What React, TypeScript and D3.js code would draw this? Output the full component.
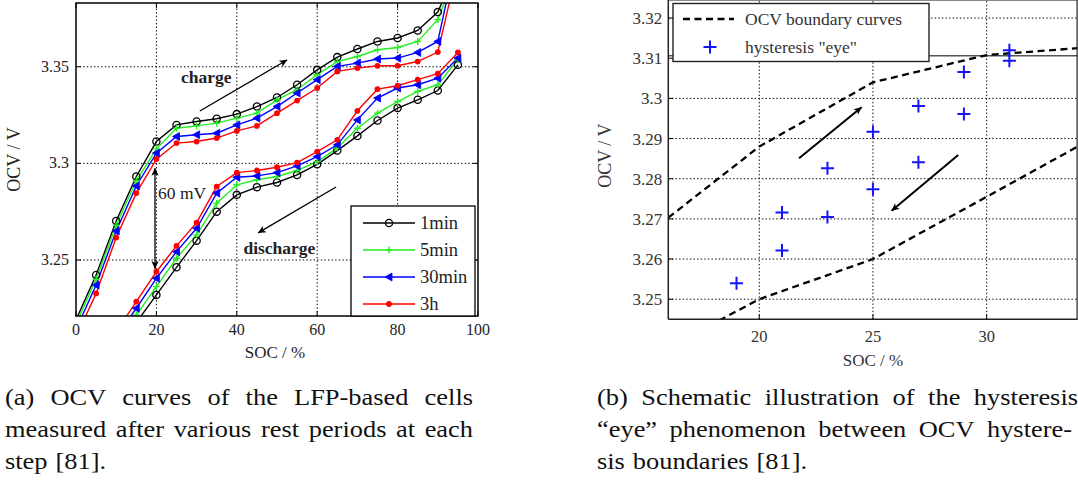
import React, { useMemo } from 'react';
import * as d3 from 'd3';

// ---------- Data: panel (a) ----------
const chargeSoc = [0, 5, 10, 15, 20, 25, 30, 35, 40, 45, 50, 55, 60, 65, 70, 75, 80, 85, 90, 95];
const charge1min = [3.219, 3.2422, 3.2702, 3.2932, 3.3113, 3.3199, 3.3217, 3.3231, 3.3255, 3.3294, 3.3341, 3.3407, 3.3484, 3.355, 3.3592, 3.3631, 3.3649, 3.3688, 3.3783, 3.402];
const charge5min = [3.217, 3.24, 3.268, 3.291, 3.3075, 3.3182, 3.3194, 3.3208, 3.3234, 3.326, 3.3329, 3.3381, 3.3459, 3.3527, 3.3553, 3.3588, 3.36, 3.3631, 3.3744, 3.401];
const charge30min = [3.214, 3.237, 3.265, 3.2883, 3.3053, 3.3139, 3.3148, 3.3156, 3.3199, 3.3234, 3.3294, 3.3364, 3.3433, 3.3502, 3.3519, 3.354, 3.3545, 3.3574, 3.3631, 3.411];
const charge3h = [3.21, 3.2327, 3.2616, 3.2846, 3.3022, 3.3105, 3.3113, 3.3131, 3.3168, 3.3194, 3.326, 3.3325, 3.339, 3.3476, 3.3493, 3.3505, 3.3505, 3.3527, 3.3576, 3.402];

const dischargeSoc = [10, 15, 20, 25, 30, 35, 40, 45, 50, 55, 60, 65, 70, 75, 80, 85, 90, 95];
const discharge1min = [3.203, 3.2176, 3.2319, 3.2462, 3.26, 3.275, 3.2837, 3.2877, 3.2901, 3.294, 3.2995, 3.3066, 3.3142, 3.3222, 3.3286, 3.3329, 3.3377, 3.351];
const discharge5min = [3.207, 3.2215, 3.2362, 3.2509, 3.263, 3.2794, 3.2889, 3.2915, 3.2932, 3.2963, 3.3009, 3.3079, 3.3182, 3.326, 3.332, 3.3372, 3.3407, 3.3536];
const discharge30min = [3.21, 3.225, 3.2405, 3.2543, 3.2664, 3.2846, 3.2928, 3.2935, 3.2952, 3.2987, 3.3035, 3.3096, 3.3225, 3.3338, 3.339, 3.3407, 3.3441, 3.3545];
const discharge3h = [3.213, 3.2284, 3.2439, 3.2573, 3.2693, 3.288, 3.2952, 3.2963, 3.298, 3.3004, 3.3061, 3.3122, 3.3272, 3.3384, 3.3402, 3.3433, 3.3464, 3.3574];

const seriesNames = ['1min', '5min', '30min', '3h'];
const seriesColors = ['#000000', '#22ee22', '#0000ff', '#ff0000'];
const seriesMarkers = ['circle', 'plus', 'triangle', 'dot'];

const xTicksA = [0, 20, 40, 60, 80, 100];
const yTicksA = [3.25, 3.3, 3.35];
const yTickLabelsA = ['3.25', '3.3', '3.35'];

// ---------- Data: panel (b) ----------
const upperSoc = [16, 20, 25, 30, 34];
const upperOcv = [3.2703, 3.288, 3.304, 3.3108, 3.3125];
const lowerSoc = [16, 20, 25, 30, 34];
const lowerOcv = [3.238, 3.25, 3.26, 3.2755, 3.288];
const eyeSoc = [19, 21, 21, 23, 23, 25, 25, 27, 27, 29, 29, 31, 31];
const eyeOcv = [3.254, 3.2621, 3.2716, 3.2705, 3.2826, 3.2774, 3.2917, 3.2841, 3.2981, 3.2961, 3.3066, 3.3094, 3.312];

const xTicksB = [20, 25, 30];
const yTicksB = [3.25, 3.26, 3.27, 3.28, 3.29, 3.3, 3.31, 3.32];
const yTickLabelsB = ['3.25', '3.26', '3.27', '3.28', '3.29', '3.3', '3.31', '3.32'];

// ---------- Captions ----------
const captionA = ['(a) OCV curves of the LFP-based cells', 'measured after various rest periods at each', 'step [81].'];
const captionB = ['(b) Schematic illustration of the hysteresis', '\u201Ceye\u201D phenomenon between OCV hystere-', 'sis boundaries [81].'];

const SERIF = '"Liberation Serif", "Times New Roman", serif';

function Marker({ kind, x, y, color }: { kind: string; x: number; y: number; color: string }) {
  if (kind === 'circle') return <circle cx={x} cy={y} r={3.6} fill="none" stroke={color} strokeWidth={1.3} />;
  if (kind === 'dot') return <circle cx={x} cy={y} r={2.9} fill={color} />;
  if (kind === 'plus')
    return (
      <path d={`M${x - 3.5},${y}H${x + 3.5}M${x},${y - 3.5}V${y + 3.5}`} stroke={color} strokeWidth={1.4} />
    );
  // left-pointing triangle
  return <path d={`M${x - 4},${y}L${x + 3},${y - 4}L${x + 3},${y + 4}Z`} fill={color} stroke={color} strokeWidth={0.8} />;
}

function Caption({ lines, x0, y0, widths, measure }: any) {
  const fs = 24;
  const stretch = 1.1;
  return (
    <g fontFamily={SERIF} fontSize={fs} fill="#111">
      {lines.map((line: string, li: number) => {
        const words = line.split(' ');
        const ww = words.map((w) => measure(w) * stretch);
        const total = d3.sum(ww);
        const gap = widths[li] ? (widths[li] - total) / (words.length - 1) : measure(' ') * stretch * 1.2;
        let cx = x0;
        return words.map((w, wi) => {
          const el = (
            <text key={li + '-' + wi} x={cx} y={y0 + li * 32} textLength={ww[wi]} lengthAdjust="spacingAndGlyphs">
              {w}
            </text>
          );
          cx += ww[wi] + gap;
          return el;
        });
      })}
    </g>
  );
}

export default function App() {
  const measure = useMemo(() => {
    const ctx = document.createElement('canvas').getContext('2d')!;
    ctx.font = '24px "Liberation Serif"';
    return (t: string) => ctx.measureText(t).width;
  }, []);

  // panel (a) scales
  const xA = d3.scaleLinear().domain([0, 100]).range([76, 478]);
  const yA = d3.scaleLinear().domain([3.221, 3.383]).range([316, 3]);
  // panel (b) scales
  const xB = d3.scaleLinear().domain([16, 34]).range([668.3, 1077.6]);
  const yB = d3.scaleLinear().domain([3.245, 3.3245]).range([319.3, 0]);

  const lineA = d3
    .line<[number, number]>()
    .x((d) => xA(d[0]))
    .y((d) => yA(d[1]));
  const lineB = d3
    .line<[number, number]>()
    .x((d) => xB(d[0]))
    .y((d) => yB(d[1]));

  const chargeSeries = [charge1min, charge5min, charge30min, charge3h];
  const dischargeSeries = [discharge1min, discharge5min, discharge30min, discharge3h];

  const [ax0, ax1] = xA.range();
  const [ay0, ay1] = yA.range(); // bottom, top
  const [bx0, bx1] = xB.range();
  const [by0, by1] = yB.range();

  const inA = (s: number, v: number) => s >= 0 && s <= 100 && v >= yA.domain()[0] && v <= yA.domain()[1];

  const dotted = { stroke: '#000', strokeWidth: 1, strokeDasharray: '1.4,2.2' };

  return (
    <svg width={1078} height={483} style={{ position: 'absolute', left: 0, top: 0, background: '#fff' }} fontFamily={SERIF}>
      <defs>
        <clipPath id="clipA">
          <rect x={ax0} y={ay1} width={ax1 - ax0} height={ay0 - ay1} />
        </clipPath>
        <clipPath id="clipB">
          <rect x={bx0} y={by1} width={bx1 - bx0} height={by0 - by1} />
        </clipPath>
        <marker id="ah" viewBox="0 0 10 10" refX={9.5} refY={5} markerWidth={11} markerHeight={8} orient="auto" markerUnits="userSpaceOnUse">
          <path d="M0,0.5L10,5L0,9.5L2.5,5Z" fill="#000" />
        </marker>
        <marker id="ahs" viewBox="0 0 10 10" refX={0.5} refY={5} markerWidth={11} markerHeight={8} orient="auto" markerUnits="userSpaceOnUse">
          <path d="M10,0.5L0,5L10,9.5L7.5,5Z" fill="#000" />
        </marker>
      </defs>

      {/* ================= Panel (a) ================= */}
      <g>
        {xTicksA.slice(1, -1).map((t) => (
          <line key={'gx' + t} x1={xA(t)} x2={xA(t)} y1={ay0} y2={ay1} {...dotted} />
        ))}
        {yTicksA.map((t) => (
          <line key={'gy' + t} x1={ax0} x2={ax1} y1={yA(t)} y2={yA(t)} {...dotted} />
        ))}

        <g clipPath="url(#clipA)">
          {chargeSeries.map((s, i) => (
            <path key={'c' + i} d={lineA(chargeSoc.map((x, j) => [x, s[j]]))!} fill="none" stroke={seriesColors[i]} strokeWidth={1.4} />
          ))}
          {dischargeSeries.map((s, i) => (
            <path key={'d' + i} d={lineA(dischargeSoc.map((x, j) => [x, s[j]]))!} fill="none" stroke={seriesColors[i]} strokeWidth={1.4} />
          ))}
          {chargeSeries.map((s, i) =>
            chargeSoc.map((x, j) =>
              inA(x, s[j]) ? <Marker key={'cm' + i + '-' + j} kind={seriesMarkers[i]} x={xA(x)} y={yA(s[j])} color={seriesColors[i]} /> : null
            )
          )}
          {dischargeSeries.map((s, i) =>
            dischargeSoc.map((x, j) =>
              inA(x, s[j]) ? <Marker key={'dm' + i + '-' + j} kind={seriesMarkers[i]} x={xA(x)} y={yA(s[j])} color={seriesColors[i]} /> : null
            )
          )}
        </g>

        {/* frame */}
        <rect x={ax0} y={ay1} width={ax1 - ax0} height={ay0 - ay1} fill="none" stroke="#000" strokeWidth={1.5} />
        {xTicksA.map((t) => (
          <g key={'tx' + t}>
            <line x1={xA(t)} x2={xA(t)} y1={ay0} y2={ay0 - 5} stroke="#000" strokeWidth={1} />
            <line x1={xA(t)} x2={xA(t)} y1={ay1} y2={ay1 + 5} stroke="#000" strokeWidth={1} />
            <text x={xA(t)} y={ay0 + 19} textAnchor="middle" fontSize={16} fill="#222">
              {t}
            </text>
          </g>
        ))}
        {yTicksA.map((t, i) => (
          <g key={'ty' + t}>
            <line x1={ax0} x2={ax0 + 5} y1={yA(t)} y2={yA(t)} stroke="#000" strokeWidth={1} />
            <line x1={ax1} x2={ax1 - 5} y1={yA(t)} y2={yA(t)} stroke="#000" strokeWidth={1} />
            <text x={ax0 - 7} y={yA(t) + 5} textAnchor="end" fontSize={16} fill="#222">
              {yTickLabelsA[i]}
            </text>
          </g>
        ))}
        <text x={(ax0 + ax1) / 2 - 2} y={358} textAnchor="middle" fontSize={17} fill="#222">
          SOC / %
        </text>
        <text transform={`translate(20,${(ay0 + ay1) / 2}) rotate(-90)`} textAnchor="middle" fontSize={18} fill="#222">
          OCV / V
        </text>

        {/* annotations */}
        <line x1={xA(30.8)} y1={yA(3.3271)} x2={xA(52.5)} y2={yA(3.3535)} stroke="#000" strokeWidth={1.3} markerEnd="url(#ah)" />
        <text x={xA(32.4)} y={yA(3.3447) + 6} textAnchor="middle" fontSize={17.5} fontWeight="bold" fill="#222">
          charge
        </text>
        <line x1={xA(64.7)} y1={yA(3.2878)} x2={xA(45.3)} y2={yA(3.264)} stroke="#000" strokeWidth={1.3} markerEnd="url(#ah)" />
        <text x={xA(50.6)} y={yA(3.2562) + 6} textAnchor="middle" fontSize={17.5} fontWeight="bold" fill="#222">
          discharge
        </text>
        <line x1={xA(19.65)} y1={yA(3.2975)} x2={xA(19.65)} y2={yA(3.2455)} stroke="#000" strokeWidth={1.3} markerEnd="url(#ah)" markerStart="url(#ahs)" />
        <text x={xA(20.4)} y={yA(3.2847) + 6} fontSize={17.5} fill="#222">
          60 mV
        </text>

        {/* legend */}
        <rect x={351} y={206} width={124} height={110} fill="#fff" stroke="#000" strokeWidth={1.3} />
        {seriesNames.map((n, i) => {
          const ly = 223 + i * 27;
          return (
            <g key={'lg' + n}>
              <line x1={363} x2={415} y1={ly} y2={ly} stroke={seriesColors[i]} strokeWidth={1.5} />
              <Marker kind={seriesMarkers[i]} x={389} y={ly} color={seriesColors[i]} />
              <text x={420} y={ly + 6} fontSize={18.5} fill="#222">
                {n}
              </text>
            </g>
          );
        })}
      </g>

      {/* ================= Panel (b) ================= */}
      <g>
        {xTicksB.map((t) => (
          <line key={'gbx' + t} x1={xB(t)} x2={xB(t)} y1={by0} y2={by1} {...dotted} />
        ))}
        {yTicksB.map((t) =>
          t === 3.31 ? (
            <line key={'gby' + t} x1={bx0} x2={bx1} y1={yB(t) - 2.5} y2={yB(t) - 2.5} stroke="#555" strokeWidth={1.4} />
          ) : (
            <line key={'gby' + t} x1={bx0} x2={bx1} y1={yB(t)} y2={yB(t)} {...dotted} />
          )
        )}

        <g clipPath="url(#clipB)">
          <path d={lineB(upperSoc.map((x, j) => [x, upperOcv[j]]))!} fill="none" stroke="#000" strokeWidth={2.3} strokeDasharray="7,4.5" />
          <path d={lineB(lowerSoc.map((x, j) => [x, lowerOcv[j]]))!} fill="none" stroke="#000" strokeWidth={2.3} strokeDasharray="7,4.5" />
          {eyeSoc.map((s, j) => {
            const px = xB(s);
            const py = yB(eyeOcv[j]);
            return <path key={'e' + j} d={`M${px - 6.5},${py}H${px + 6.5}M${px},${py - 6.5}V${py + 6.5}`} stroke="#1414ff" strokeWidth={2} />;
          })}
        </g>

        {/* frame */}
        <line x1={bx0} x2={bx1} y1={by1 + 0.5} y2={by1 + 0.5} stroke="#888" strokeWidth={1.2} />
        <line x1={bx0} x2={bx0} y1={by1} y2={by0} stroke="#222" strokeWidth={1.5} />
        <line x1={bx0} x2={bx1} y1={by0} y2={by0} stroke="#222" strokeWidth={1.5} />
        <line x1={bx1 - 0.5} x2={bx1 - 0.5} y1={by1} y2={by0} stroke="#222" strokeWidth={1.2} />
        {xTicksB.map((t) => (
          <g key={'tbx' + t}>
            <line x1={xB(t)} x2={xB(t)} y1={by0} y2={by0 - 5} stroke="#000" strokeWidth={1} />
            <text x={xB(t)} y={by0 + 23} textAnchor="middle" fontSize={16.5} fill="#333">
              {t}
            </text>
          </g>
        ))}
        {yTicksB.map((t, i) => (
          <g key={'tby' + t}>
            <line x1={bx0} x2={bx0 + 5} y1={yB(t)} y2={yB(t)} stroke="#000" strokeWidth={1} />
            <text x={bx0 - 6} y={yB(t) + 6} textAnchor="end" fontSize={17} fill="#333">
              {yTickLabelsB[i]}
            </text>
          </g>
        ))}
        <text x={xB(25)} y={366} textAnchor="middle" fontSize={17} fill="#333">
          SOC / %
        </text>
        <text transform={`translate(611,${(by0 + by1) / 2 - 4}) rotate(-90)`} textAnchor="middle" fontSize={18} fill="#333">
          OCV / V
        </text>

        {/* arrows */}
        <line x1={xB(21.75)} y1={yB(3.2851)} x2={xB(24.5)} y2={yB(3.2978)} stroke="#000" strokeWidth={2} markerEnd="url(#ah)" />
        <line x1={xB(28.75)} y1={yB(3.2859)} x2={xB(25.82)} y2={yB(3.272)} stroke="#000" strokeWidth={2} markerEnd="url(#ah)" />

        {/* legend */}
        <rect x={673} y={3.5} width={256} height={58} fill="#fff" stroke="#222" strokeWidth={1.4} />
        <line x1={683} x2={734} y1={19} y2={19} stroke="#000" strokeWidth={2.3} strokeDasharray="7,4.5" />
        <text x={745} y={25} fontSize={17.5} fill="#333">
          OCV boundary curves
        </text>
        <path d={`M${710 - 6.5},47H${710 + 6.5}M710,${47 - 6.5}V${47 + 6.5}`} stroke="#1414ff" strokeWidth={2} />
        <text x={745} y={53} fontSize={17.5} fill="#333">
          hysteresis "eye"
        </text>
      </g>

      {/* ================= Captions ================= */}
      <Caption lines={captionA} x0={5} y0={405} widths={[468, 468, 0]} measure={measure} />
      <Caption lines={captionB} x0={597} y0={405} widths={[481, 475, 0]} measure={measure} />
    </svg>
  );
}
